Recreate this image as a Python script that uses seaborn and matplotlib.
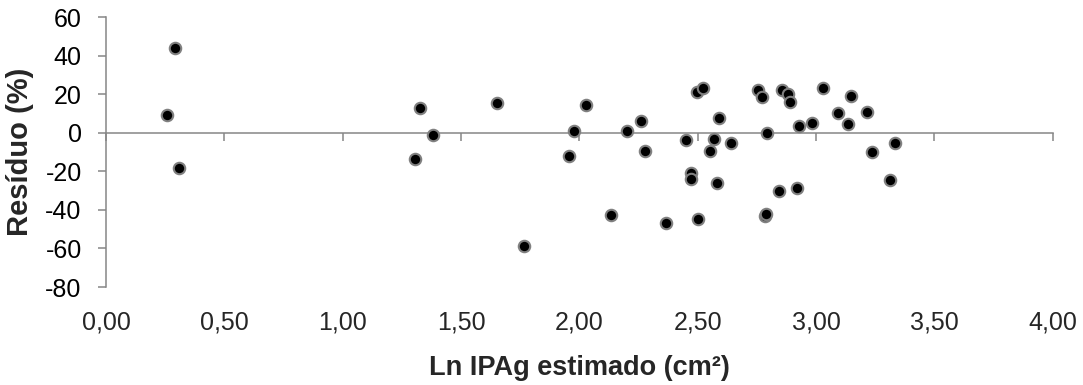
import matplotlib
matplotlib.use("Agg")
import matplotlib.pyplot as plt
import matplotlib.ticker as mticker
import pandas as pd
import seaborn as sns

# Data
ln_ipag = [0.259, 0.292, 0.309, 1.307, 1.328, 1.382, 1.654, 1.767,
           1.957, 1.978, 2.026, 2.133, 2.201, 2.261, 2.277, 2.365,
           2.449, 2.470, 2.473, 2.497, 2.501, 2.522,
           2.553, 2.570, 2.580, 2.590, 2.639,
           2.753, 2.771, 2.785, 2.790, 2.791,
           2.843, 2.856, 2.880, 2.890, 2.918, 2.930, 2.984, 3.028,
           3.094, 3.137, 3.146, 3.216, 3.238, 3.312, 3.332]
residuo = [9.0, 43.9, -18.3, -13.6, 12.8, -1.2, 15.4, -58.5,
           -11.9, 1.0, 14.5, -42.7, 0.7, 5.9, -9.7, -47.0,
           -4.0, -20.9, -24.0, 21.2, -44.6, 23.3,
           -9.7, -3.3, -25.9, 7.6, -5.5,
           22.3, 18.3, -43.0, -42.3, -0.2,
           -30.1, 21.9, 20.0, 15.9, -28.7, 3.4, 5.2, 23.1,
           10.2, 4.5, 19.2, 10.7, -9.8, -24.4, -5.2]

x_ticks = [0.0, 0.5, 1.0, 1.5, 2.0, 2.5, 3.0, 3.5, 4.0]
y_ticks = [-80, -60, -40, -20, 0, 20, 40, 60]

df = pd.DataFrame({"x": ln_ipag, "y": residuo})

sns.set_style("white")
plt.rcParams["font.family"] = ["Liberation Sans", "DejaVu Sans"]
plt.rcParams["axes.unicode_minus"] = False

GRAY = "#868686"

fig = plt.figure(figsize=(10.83, 3.85), dpi=100)
ax = fig.add_axes([0.0979, 0.2545, 0.8741, 0.7013])

sns.scatterplot(data=df, x="x", y="y", ax=ax, s=68, color="black",
                edgecolor="#808080", linewidth=1.5, zorder=3, clip_on=False)

ax.set_xlim(0, 4)
ax.set_ylim(-80, 60)
ax.set_xticks(x_ticks)
ax.set_yticks(y_ticks)

for side in ["top", "right"]:
    ax.spines[side].set_visible(False)
ax.spines["left"].set_color(GRAY)
ax.spines["left"].set_linewidth(1.1)
ax.spines["bottom"].set_position(("data", 0))
ax.spines["bottom"].set_color(GRAY)
ax.spines["bottom"].set_linewidth(1.1)
ax.spines["bottom"].set_zorder(2)

ax.tick_params(axis="x", bottom=True, direction="out", length=5.5, width=1.1,
               color=GRAY, labelbottom=False)
ax.tick_params(axis="y", left=True, direction="out", length=5.5, width=1.1,
               color=GRAY, labelsize=18, pad=12, labelcolor="black")
ax.set_xlabel("")
ax.set_ylabel("Resíduo (%)", fontsize=21, fontweight="bold", labelpad=8)

# tick labels at the bottom of the plot area, axis line stays at zero
sec = ax.secondary_xaxis("bottom")
sec.spines["bottom"].set_visible(False)
sec.set_xticks(x_ticks)
sec.xaxis.set_major_formatter(
    mticker.FuncFormatter(lambda v, p: f"{v:.2f}".replace(".", ",")))
sec.tick_params(axis="x", bottom=True, length=0, pad=17, labelsize=18)
sec.set_xlabel("Ln IPAg estimado (cm²)", fontsize=19.5, fontweight="bold",
               labelpad=15)

fig.savefig("out.png", dpi=100)
